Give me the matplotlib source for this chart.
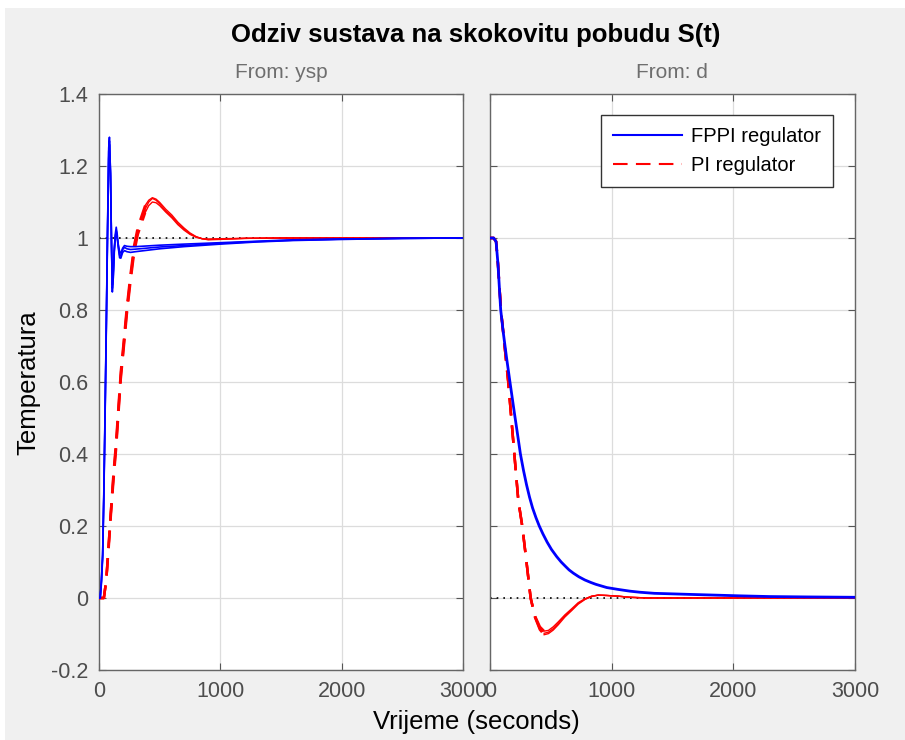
import numpy as np
import matplotlib.pyplot as plt
from matplotlib.patches import Rectangle
from matplotlib.lines import Line2D

# ---- data ----
# From: ysp, FPPI regulator (three parameter cases)
t_ysp_fppi = [0, 10, 20, 30, 40, 50, 60, 70, 80, 86, 95, 103, 110, 118, 126, 134, 142, 150,
              160, 170, 180, 195, 210, 230, 260, 300, 400, 500, 700, 1000, 1300, 1600, 2000, 2500, 3000]
y_ysp_fppi_a = [0, 0.0, 0.05, 0.12, 0.30, 0.52, 0.76, 1.02, 1.25, 1.28, 1.18, 0.98, 0.85, 0.90, 0.97, 1.01, 1.03, 1.01,
                0.975, 0.952, 0.950, 0.968, 0.974, 0.970, 0.968, 0.969, 0.972, 0.975, 0.979, 0.985, 0.990, 0.994, 0.997, 0.999, 1.0]
y_ysp_fppi_b = [0, 0.0, 0.04, 0.11, 0.28, 0.50, 0.74, 1.00, 1.22, 1.26, 1.17, 0.99, 0.87, 0.91, 0.97, 1.00, 1.02, 1.00,
                0.980, 0.962, 0.958, 0.972, 0.979, 0.977, 0.976, 0.976, 0.978, 0.980, 0.983, 0.987, 0.991, 0.995, 0.997, 0.999, 1.0]
y_ysp_fppi_c = [0, 0.0, 0.05, 0.12, 0.29, 0.51, 0.75, 1.01, 1.24, 1.27, 1.18, 0.98, 0.86, 0.89, 0.96, 1.00, 1.02, 1.00,
                0.970, 0.945, 0.944, 0.960, 0.965, 0.962, 0.960, 0.962, 0.966, 0.970, 0.976, 0.983, 0.989, 0.993, 0.996, 0.999, 1.0]

# From: ysp, PI regulator
t_ysp_pi = [0, 40, 60, 80, 100, 120, 140, 160, 180, 200, 230, 260, 290, 320, 350, 380, 410, 440, 470, 500,
            550, 600, 650, 700, 750, 800, 850, 900, 1000, 1200, 1500, 2000, 3000]
y_ysp_pi_a = [0, 0, 0.05, 0.15, 0.25, 0.34, 0.42, 0.52, 0.62, 0.69, 0.80, 0.89, 0.97, 1.02, 1.05, 1.08, 1.10, 1.11, 1.105, 1.095,
              1.075, 1.060, 1.040, 1.025, 1.012, 1.003, 0.998, 0.996, 0.997, 0.999, 1.0, 1.0, 1.0]
y_ysp_pi_b = [0, 0, 0.05, 0.14, 0.24, 0.33, 0.41, 0.51, 0.61, 0.68, 0.79, 0.88, 0.96, 1.01, 1.04, 1.07, 1.09, 1.10, 1.098, 1.090,
              1.072, 1.056, 1.037, 1.022, 1.010, 1.002, 0.998, 0.997, 0.998, 0.999, 1.0, 1.0, 1.0]
y_ysp_pi_c = [0, 0, 0.05, 0.15, 0.25, 0.35, 0.43, 0.53, 0.63, 0.70, 0.81, 0.90, 0.98, 1.03, 1.06, 1.09, 1.105, 1.112, 1.108, 1.099,
              1.080, 1.064, 1.044, 1.028, 1.014, 1.004, 0.998, 0.995, 0.996, 0.999, 1.0, 1.0, 1.0]

# From: d, FPPI regulator
t_d_fppi = [0, 30, 50, 65, 88, 110, 135, 164, 200, 222, 250, 275, 300, 325, 350, 378, 405, 435, 470, 505,
            548, 585, 620, 650, 685, 730, 780, 830, 870, 920, 960, 1050, 1150, 1233, 1350, 1450, 1644,
            1850, 2055, 2300, 2600, 3000]
y_d_fppi = [1, 1, 0.99, 0.93, 0.80, 0.735, 0.67, 0.60, 0.515, 0.465, 0.40, 0.355, 0.315, 0.28, 0.25, 0.223, 0.20, 0.178, 0.155, 0.135,
            0.115, 0.100, 0.088, 0.078, 0.069, 0.059, 0.050, 0.043, 0.038, 0.033, 0.029, 0.024, 0.019, 0.016, 0.013, 0.012, 0.010,
            0.008, 0.006, 0.004, 0.003, 0.002]

# From: d, PI regulator
t_d_pi = [0, 30, 50, 65, 90, 120, 150, 175, 200, 233, 265, 300, 334, 370, 410, 445, 480, 520, 562, 615, 671, 725,
          781, 835, 890, 960, 1055, 1150, 1300, 2000, 3000]
y_d_pi_a = [1, 1, 0.99, 0.93, 0.80, 0.70, 0.60, 0.50, 0.40, 0.27, 0.20, 0.10, 0.0, -0.052, -0.085, -0.098, -0.095, -0.085, -0.070,
            -0.050, -0.033, -0.015, -0.003, 0.005, 0.008, 0.007, 0.005, 0.002, 0.0, 0.0, 0.0]
y_d_pi_b = [1, 1, 0.99, 0.93, 0.80, 0.70, 0.60, 0.50, 0.40, 0.27, 0.20, 0.10, 0.0, -0.050, -0.080, -0.092, -0.090, -0.080, -0.066,
            -0.047, -0.030, -0.013, -0.002, 0.005, 0.008, 0.007, 0.005, 0.002, 0.0, 0.0, 0.0]
y_d_pi_c = [1, 1, 0.99, 0.93, 0.80, 0.70, 0.60, 0.50, 0.40, 0.27, 0.20, 0.10, 0.0, -0.054, -0.088, -0.102, -0.099, -0.089, -0.074,
            -0.053, -0.035, -0.017, -0.004, 0.004, 0.008, 0.007, 0.005, 0.002, 0.0, 0.0, 0.0]

x_ticks = [0, 1000, 2000, 3000]
y_ticks = [-0.2, 0, 0.2, 0.4, 0.6, 0.8, 1.0, 1.2, 1.4]
y_tick_labels = ["-0.2", "0", "0.2", "0.4", "0.6", "0.8", "1", "1.2", "1.4"]

# PI curves are drawn dashed until this time, thin solid after (overlapping dashes look solid)
dash_until_ysp = 380
dash_until_d = 445

plt.rcParams['font.family'] = ['Liberation Sans', 'DejaVu Sans']
grey_txt = "#4d4d4d"
blue = (0, 0, 1)
red = (1, 0, 0)
pi_dashes = (7, 4)

fig = plt.figure(figsize=(9.05, 7.4), dpi=100, facecolor="white")
fig.patches.append(Rectangle((5 / 905, 0), 1, 1 - 8 / 740, transform=fig.transFigure,
                             facecolor="#f0f0f0", edgecolor="none", zorder=-10))

ax1 = fig.add_axes([99 / 905, 1 - 670 / 740, 364 / 905, 576 / 740])
ax2 = fig.add_axes([490 / 905, 1 - 670 / 740, 365 / 905, 576 / 740])


def plot_pi(ax, t, y, split):
    t = np.array(t)
    y = np.array(y)
    m1 = t <= split
    m2 = t >= split
    ax.plot(t[m1], y[m1], color=red, lw=1.8, dashes=pi_dashes, zorder=3)
    ax.plot(t[m2], y[m2], color=red, lw=1.0, zorder=3)


# left: From ysp
ax1.plot([0, 3000], [1, 1], color="black", lw=1.2, ls=(0, (1, 3)), zorder=2)
for yy in [y_ysp_fppi_a, y_ysp_fppi_b, y_ysp_fppi_c]:
    ax1.plot(t_ysp_fppi, yy, color=blue, lw=1.2, zorder=4)
for yy in [y_ysp_pi_a, y_ysp_pi_b, y_ysp_pi_c]:
    plot_pi(ax1, t_ysp_pi, yy, dash_until_ysp)

# right: From d
ax2.plot([0, 3000], [0, 0], color="black", lw=1.2, ls=(0, (1, 3)), zorder=2)
for yy in [y_d_pi_a, y_d_pi_b, y_d_pi_c]:
    plot_pi(ax2, t_d_pi, yy, dash_until_d)
ax2.plot(t_d_fppi, y_d_fppi, color=blue, lw=2.0, zorder=4)

for ax in (ax1, ax2):
    ax.set_facecolor("white")
    ax.set_xlim(0, 3000)
    ax.set_ylim(-0.2, 1.4)
    ax.set_xticks(x_ticks)
    ax.set_yticks(y_ticks)
    ax.grid(True, color="#dcdcdc", lw=0.9)
    ax.set_axisbelow(True)
    ax.tick_params(direction="in", top=True, right=True, length=5, color="#555555",
                   labelsize=15.5, labelcolor=grey_txt, pad=8)
    for s in ax.spines.values():
        s.set_color("#666666")
        s.set_linewidth(1.0)

ax1.set_yticklabels(y_tick_labels)
ax2.set_yticklabels([])

fig.text(281 / 905, 1 - 72 / 740, "From: ysp", fontsize=15, color="#6e6e6e", ha="center", va="center")
fig.text(672 / 905, 1 - 72 / 740, "From: d", fontsize=15, color="#6e6e6e", ha="center", va="center")

fig.text(28 / 905, 1 - 383 / 740, "Temperatura", fontsize=18.5, rotation=90, ha="center", va="center")
fig.text(476 / 905, 1 - 722 / 740, "Vrijeme (seconds)", fontsize=18.5, ha="center", va="center")
fig.text(476 / 905, 1 - 35 / 740, "Odziv sustava na skokovitu pobudu S(t)", fontsize=18.5,
         fontweight="bold", ha="center", va="center")

handles = [Line2D([], [], color=blue, lw=1.5),
           Line2D([], [], color=red, lw=1.5, dashes=pi_dashes)]
leg = ax2.legend(handles, ["FPPI regulator", "PI regulator"], loc="upper right",
                 bbox_to_anchor=(0.94, 0.9635), fontsize=14.5, fancybox=False,
                 framealpha=1, edgecolor="#333333", handlelength=3.4, borderpad=0.6,
                 labelspacing=0.5, handletextpad=0.45, borderaxespad=0)
leg.get_frame().set_linewidth(1.0)

fig.savefig("out.png", dpi=100, facecolor=fig.get_facecolor())
